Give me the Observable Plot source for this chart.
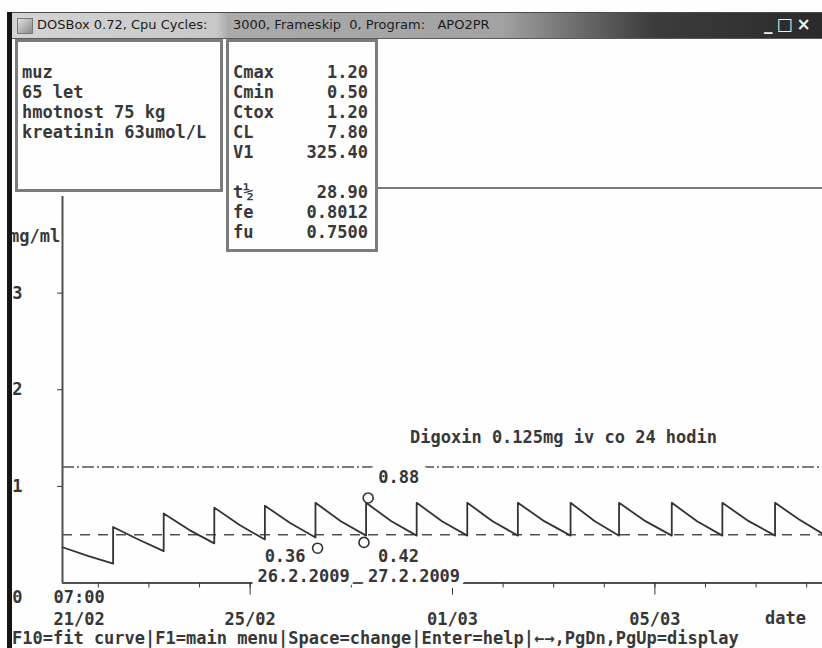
<!DOCTYPE html>
<html>
<head>
<meta charset="utf-8">
<script src="https://cdn.jsdelivr.net/npm/d3@7"></script>
<script src="https://cdn.jsdelivr.net/npm/@observablehq/plot@0.6"></script>
<style>
  html, body { margin:0; padding:0; background:#ffffff; }
  #screen { position:relative; width:822px; height:648px; overflow:hidden; background:#fefefe;
    font-family:"DejaVu Sans Mono", monospace; font-weight:bold; font-size:17px; color:#383838; }
  #screen > svg { position:absolute; left:0; top:0; }
  .abs { position:absolute; white-space:pre; line-height:20px; }
  .box { position:absolute; box-sizing:border-box; border:3px solid #7c7c7c; background:#fefefe; }
  #titlebar { position:absolute; left:12px; top:12px; width:810px; height:27px; box-sizing:border-box;
    border-top:1px solid #4a4a4a; border-bottom:1px solid #5a5a5a;
    background: linear-gradient(to right, #d4d4d4 0px, #c8c8c8 205px, #aaaaaa 216px, #a2a2a2 490px, #707070 560px, #3c3c3c 640px, #2a2a2a 810px);
    font-family:"DejaVu Sans", sans-serif; font-weight:normal; font-size:13px; color:#1c1c1c; }
  #titlebar span { position:absolute; top:4px; white-space:pre; }
</style>
</head>
<body>
<div id="screen"></div>
<script>
// ---- data ----
const windowTitle = ["DOSBox 0.72, Cpu Cycles:", "3000, Frameskip  0, Program:   APO2PR"];
const patientLines = ["muz", "65 let", "hmotnost 75 kg", "kreatinin 63umol/L"];
const paramNames  = ["Cmax", "Cmin", "Ctox", "CL", "V1", "", "t½", "fe", "fu"];
const paramValues = ["1.20", "0.50", "1.20", "7.80", "325.40", "", "28.90", "0.8012", "0.7500"];
const drugLabel = "Digoxin 0.125mg iv co 24 hodin";
const unitLabel = "mg/ml";
const xAxisLabel = "date";
const footerText = "F10=fit curve|F1=main menu|Space=change|Enter=help|←→,PgDn,PgUp=display";

const startTime = "2009-02-21T07:00Z";
const endTime   = "2009-03-08T07:30Z";
const startLabels = ["07:00", "21/02"];
const yTicks = [1, 2, 3];
const xMajorTicks = ["2009-02-25T00:00Z", "2009-03-01T00:00Z", "2009-03-05T00:00Z"];

const cTox = 1.20;
const cMin = 0.50;

// model curve: each segment starts at a dose (peak), decays to a trough
const segmentStarts = ["2009-02-21T07:00Z", "2009-02-22T07:00Z", "2009-02-23T07:00Z", "2009-02-24T07:00Z",
  "2009-02-25T07:00Z", "2009-02-26T07:00Z", "2009-02-27T07:00Z", "2009-02-28T07:00Z", "2009-03-01T07:00Z",
  "2009-03-02T07:00Z", "2009-03-03T08:00Z", "2009-03-04T07:00Z", "2009-03-05T08:00Z", "2009-03-06T08:00Z",
  "2009-03-07T09:00Z"];
const peakConc   = [0.37, 0.58, 0.72, 0.78, 0.80, 0.83, 0.83, 0.83, 0.83, 0.83, 0.83, 0.83, 0.83, 0.83, 0.83];
const midConc    = [0.28, 0.45, 0.55, 0.60, 0.62, 0.64, 0.64, 0.64, 0.64, 0.64, 0.64, 0.64, 0.64, 0.64, 0.66];
const troughConc = [0.20, 0.33, 0.41, 0.45, 0.47, 0.49, 0.49, 0.49, 0.49, 0.49, 0.49, 0.49, 0.49, 0.49, 0.51];

// measured levels
const measTimes = ["2009-02-26T08:00Z", "2009-02-27T06:00Z", "2009-02-27T08:00Z"];
const measConc  = [0.36, 0.42, 0.88];
const measDates = ["26.2.2009", "27.2.2009"];

// ---- build ----
const T = s => new Date(s);
const curve = [];
segmentStarts.forEach((s, i) => {
  const t0 = T(s);
  const t1 = T(i + 1 < segmentStarts.length ? segmentStarts[i + 1] : endTime);
  curve.push({t: t0, c: peakConc[i]});
  curve.push({t: new Date((+t0 + +t1) / 2), c: midConc[i]});
  curve.push({t: t1, c: troughConc[i]});
});
const measured = measTimes.map((s, i) => ({t: T(s), c: measConc[i], label: measConc[i].toFixed(2)}));

const ink = "#363636";
const lineInk = "#505050";
const halo = {stroke: "#fefefe", strokeWidth: 12, paintOrder: "stroke", strokeLinejoin: "round", fill: ink, lineAnchor: "middle"};

const chart = Plot.plot({
  width: 822, height: 648,
  marginLeft: 62, marginRight: 0, marginTop: 196, marginBottom: 65.5,
  style: {background: "transparent", fontFamily: '"DejaVu Sans Mono", monospace', fontSize: "17px", fontWeight: "bold", color: ink, overflow: "visible"},
  x: {type: "utc", domain: [T(startTime), T(endTime)]},
  y: {domain: [0, 4]},
  marks: [
    Plot.ruleX([T(startTime)], {stroke: lineInk, strokeWidth: 2}),
    Plot.ruleY([0], {stroke: lineInk, strokeWidth: 2}),
    Plot.axisY({ticks: yTicks, tickSize: 5, tickPadding: 35, tickFormat: d3.format("d"), label: null}),
    Plot.axisY({ticks: [0], tickSize: 0, tickPadding: 40, dy: 15, tickFormat: d3.format("d"), label: null}),
    Plot.axisX({ticks: d3.utcDay.range(T(startTime), T(endTime)), tickSize: 5, tickFormat: () => "", label: null}),
    Plot.axisX({ticks: xMajorTicks.map(T), tickSize: 12, tickPadding: 17.5, tickFormat: d3.utcFormat("%d/%m"), label: null}),
    Plot.ruleY([cTox], {stroke: lineInk, strokeWidth: 1.5, strokeDasharray: "12,3,2,3"}),
    Plot.ruleY([cMin], {stroke: lineInk, strokeWidth: 1.5, strokeDasharray: "10,8"}),
    Plot.text([T(startTime)], {x: d => d, y: 0, text: () => startLabels[0], dx: -9, dy: 14.5, textAnchor: "start", lineAnchor: "middle", fill: ink}),
    Plot.text([T(startTime)], {x: d => d, y: 0, text: () => startLabels[1], dx: -9, dy: 37, textAnchor: "start", lineAnchor: "middle", fill: ink}),
    Plot.text([measured[0]], {x: "t", y: "c", text: "label", dx: -12, dy: 8, textAnchor: "end", ...halo}),
    Plot.text([measured[1]], {x: "t", y: "c", text: "label", dx: 14, dy: 14, textAnchor: "start", ...halo}),
    Plot.text([measured[2]], {x: "t", y: "c", text: "label", dx: 10, dy: -20, textAnchor: "start", ...halo, strokeWidth: 18}),
    Plot.text([measured[0]], {x: "t", y: "c", text: () => measDates[0], dx: -60, dy: 28, textAnchor: "start", ...halo}),
    Plot.text([measured[1]], {x: "t", y: "c", text: () => measDates[1], dx: 4, dy: 34, textAnchor: "start", ...halo}),
    Plot.line(curve, {x: "t", y: "c", stroke: "#333", strokeWidth: 1.8}),
    Plot.dot(measured, {x: "t", y: "c", r: 5, stroke: "#333", strokeWidth: 1.6, fill: "#fefefe"})
  ]
});

const screen = document.getElementById("screen");
screen.appendChild(chart);

function add(html, cls, css) {
  const d = document.createElement("div");
  if (cls) d.className = cls;
  d.style.cssText = css;
  d.textContent = html;
  screen.appendChild(d);
  return d;
}

// labels on the DOS screen
add(unitLabel, "abs", "left:9px;top:226px;");
add(drugLabel, "abs", "left:410px;top:427px;");
add(xAxisLabel, "abs", "left:765px;top:608px;");
add(footerText, "abs", "left:12px;top:630px;line-height:17px;");

// chart frame top line
add("", "", "position:absolute;left:378px;top:187px;width:444px;height:2px;background:#7a7a7a;");

// boxes
add("", "box", "left:15px;top:39px;width:208px;height:153px;");
add(patientLines.join("\n"), "abs", "left:22px;top:62px;");
add("", "box", "left:226px;top:39px;width:152px;height:213px;");
add(paramNames.join("\n"), "abs", "left:233px;top:62px;");
add(paramValues.join("\n"), "abs", "left:278px;top:62px;width:90px;text-align:right;");

// window chrome
const tb = document.createElement("div");
tb.id = "titlebar";
screen.appendChild(tb);
const icon = document.createElement("div");
icon.style.cssText = "position:absolute;left:5px;top:5px;width:14px;height:14px;border:1px solid #777;background:linear-gradient(135deg,#e0e0e0,#8a8a8a);";
tb.appendChild(icon);
const t1 = document.createElement("span"); t1.textContent = windowTitle[0]; t1.style.left = "25px"; tb.appendChild(t1);
const t2 = document.createElement("span"); t2.textContent = windowTitle[1]; t2.style.left = "221px"; tb.appendChild(t2);
const btn = document.createElement("span"); btn.textContent = "_□×"; btn.style.cssText = "left:752px;top:1px;color:#eeeeee;font-weight:bold;font-size:17px;letter-spacing:4px;"; tb.appendChild(btn);
add("", "", "position:absolute;left:7px;top:12px;width:5px;height:636px;background:#151515;");
</script>
</body>
</html>
